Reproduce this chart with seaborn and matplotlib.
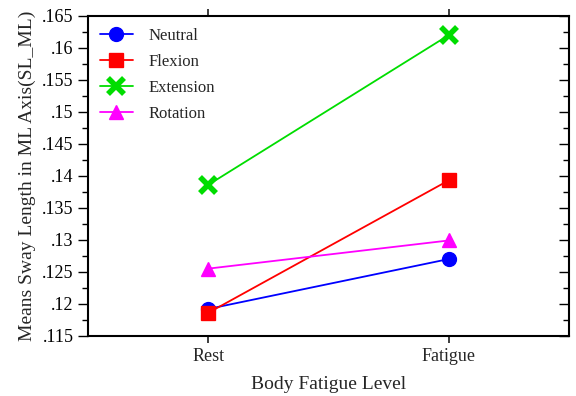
import matplotlib
matplotlib.use("Agg")
import matplotlib.pyplot as plt
import seaborn as sns
import pandas as pd
from matplotlib.ticker import MultipleLocator, FuncFormatter

levels = ["Rest", "Fatigue"]
groups = ["Neutral", "Flexion", "Extension", "Rotation"]
neutral = [0.1192, 0.1270]
flexion = [0.1186, 0.1393]
extension = [0.1386, 0.1620]
rotation = [0.1255, 0.1299]
colors = ["#0000ff", "#ff0000", "#00dd00", "#ff00ff"]
markers = ["o", "s", "x", "^"]

rows = []
for g, vals in zip(groups, [neutral, flexion, extension, rotation]):
    for lv, v in zip(levels, vals):
        rows.append({"level": lv, "group": g, "value": v})
df = pd.DataFrame(rows)

sns.set_theme(style="ticks")
plt.rcParams['font.family'] = ['Liberation Serif', 'DejaVu Serif']

fig, ax = plt.subplots(figsize=(5.76, 3.96), dpi=100)
fig.subplots_adjust(left=0.153, right=0.988, top=0.96, bottom=0.152)

sns.pointplot(data=df, x="level", y="value", hue="group", order=levels,
              hue_order=groups, palette=colors, markers=markers,
              linestyles="-", ax=ax, errorbar=None, markersize=10,
              linewidth=1.3)

for ln in ax.lines:
    if ln.get_marker() == "x":
        ln.set_markersize(12)
        ln.set_markeredgewidth(4)

ax.set_xlim(-0.5, 1.5)
ax.set_ylim(0.115, 0.165)
ax.yaxis.set_major_locator(MultipleLocator(0.005))
ax.yaxis.set_minor_locator(MultipleLocator(0.0025))

def fmt(v, pos):
    s = ("%.3f" % v).rstrip("0").rstrip(".")
    return s.lstrip("0")
ax.yaxis.set_major_formatter(FuncFormatter(fmt))

ax.tick_params(axis="y", which="both", left=True, right=True, labelsize=13, colors="black")
ax.tick_params(axis="y", which="major", length=7, width=1)
ax.tick_params(axis="y", which="minor", length=4.5, width=1)
ax.tick_params(axis="x", which="major", top=True, bottom=True, direction="out", length=5, labelsize=13)
for t in ax.yaxis.get_major_ticks() + ax.yaxis.get_minor_ticks():
    t.tick1line.set_marker(matplotlib.lines.TICKLEFT)
    t.tick2line.set_marker(matplotlib.lines.TICKLEFT)
for t in ax.xaxis.get_major_ticks():
    t.tick1line.set_marker(matplotlib.lines.TICKDOWN)
    t.tick2line.set_marker(matplotlib.lines.TICKUP)

for sp in ax.spines.values():
    sp.set_linewidth(1.5)
    sp.set_color("black")

ax.set_xlabel("Body Fatigue Level", fontsize=14, labelpad=8)
ax.set_ylabel("Means Sway Length in ML Axis(SL_ML)", fontsize=14)

leg = ax.legend(loc="upper left", frameon=False, fontsize=12, handlelength=2.0,
                labelspacing=0.6, borderaxespad=0.3, handletextpad=0.9)
for h in leg.legend_handles:
    if h.get_marker() == "x":
        h.set_markersize(12)
        h.set_markeredgewidth(4)
ax.grid(False)

fig.savefig("out.png", dpi=100)
